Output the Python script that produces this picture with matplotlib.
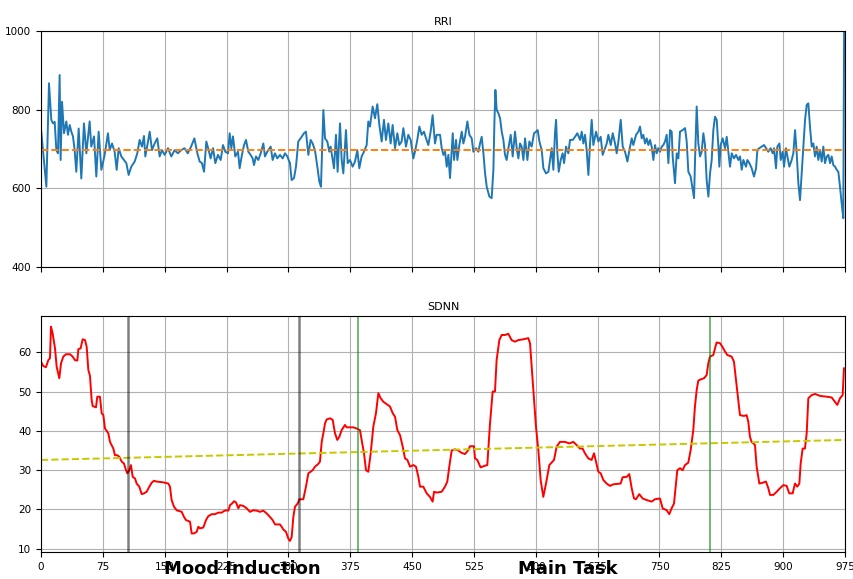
import numpy as np
import matplotlib
matplotlib.use("Agg")
import matplotlib.pyplot as plt

# ---------------- data ----------------
rri_x = [0, 6.5, 9.7, 12.5, 14.6, 16.6, 18.6, 20.6, 22.6, 23.8, 25.5, 27.9, 30.7, 32.7, 34.8, 36.8, 38.8,
         40.8, 42.8, 45.7, 48.9, 52.1, 55, 59, 61, 64.3, 67.1, 69.9, 73.2, 77.2, 81.2, 83.3, 86.1, 89.3,
         91.8, 94.2, 97.4, 100.6, 103.5, 106.3, 109.5, 113.6, 116.8, 119.6, 122.5, 124.9, 126.5, 129.8,
         131.8, 134.6, 137.8, 141, 143.9, 146.7, 150, 154, 158, 162, 166, 170, 174, 178, 182, 186, 189.6,
         192.4, 195.2, 197.7, 200.5, 203.3, 205.7, 208.6, 211.4, 214.6, 217.9, 220.7, 223.5, 226.8, 228.8,
         230.8, 232.8, 235.6, 238.9, 240.9,
         243.3, 246.2, 248.6, 251.4, 254.2, 256.7, 258.3, 260.7, 263.5, 266.4, 269.6, 271.6, 274.4, 278.5,
         280.9, 283.7, 286.6, 289.8, 293, 295.9, 298.7, 301.9, 303.9, 306.8, 309.2, 312, 316.1, 318.9,
         321.3, 324.2, 327, 329.4, 332.2, 335.1, 337.5, 339.5, 342.4, 344.4, 347.2, 349.6, 351.2, 353.7,
         355.3, 357.7, 359.7, 362.6, 364.6, 366.6, 369.8, 371.9, 374.7, 377.9, 380.8, 383.6, 386, 388.8,
         391.7, 394.9, 396.9, 398.9, 402.2, 405, 407.8, 410.3, 413.1, 415.9, 418.3, 421.2, 424, 426.4,
         429.3, 432.1, 434.5, 437.3, 439.4, 442.6, 445.4, 448.3, 451.5, 453.5, 456.3, 458.8, 461.6, 464.4,
         466.9, 469.7, 472.5, 474.9, 477.8, 479.8,
         483.9, 485.9, 488, 490, 492, 494, 496, 498, 499.3, 500.9, 503.3, 504.9, 507.3, 510.2, 512.2, 514.2,
         517, 519.5, 522.3, 524.3, 527.6, 530.4, 532.4, 534.4, 536.5, 538.5, 540.5, 543.7, 546.5, 548.6,
         549.8, 551, 552.6, 554.6, 556.7, 558.7, 560.7, 562.7, 564.7, 566.8, 569.6, 572, 574.8, 576.9,
         578.9, 580.9, 582.9, 585, 587, 589.8, 592.2, 595, 597.9, 600.3, 602.3, 604.4, 607.2, 609.2, 612.4,
         615.3, 617.3, 619.3, 621.3, 623.3, 624.6, 626.2, 627.8, 630.2, 632.6, 634.3, 636.7, 639.5, 641.5,
         644.8, 647.6, 650.4, 653.7, 655.7, 657.7, 659.7, 661.7, 663.8, 665.8, 667.8, 669.8, 673.1, 675.9,
         678.7, 681.1, 684, 686, 688, 690.9, 693.3, 696.1, 698.1, 700.2, 703, 705.4, 708.2, 711.1, 713.5,
         716.3, 718.3, 721.6, 724.4,
         726.4, 728.4, 730.4, 732.5, 734.5, 736.5, 738.5, 740.5, 742.6, 744.6, 746.6, 748.6, 750.7, 752.7,
         754.7, 756.7, 758.7, 760.8, 762.8, 764.8, 766, 768.8, 770.9, 772.9, 774.9, 778.1, 781, 783, 785,
         787.8, 790.3, 791.9, 793.1, 795.1, 797.1, 799.2, 801.2, 803.2, 805.2, 807.2, 809.3, 811.3, 813.3,
         815.3, 817.3, 819.4, 821.4, 822.6, 824.2, 826.6, 829.5, 831.5, 833.5, 835.5, 837.6, 840.4, 842.8,
         845.6, 847.7, 849.7, 851.7, 854.9, 856.6, 859, 861.8, 864.6, 867.1, 868.7, 871.1, 874, 876.8,
         879.2, 882, 884.8, 887.3, 888.9, 891.3, 892.9, 895.4, 897, 899.4, 901, 903.4, 905.1, 907.5, 910.3,
         912.3, 914.4, 916.4, 918.4, 920.4, 922.4, 924.5, 926.5, 928.5, 930.5, 932.5, 934.6, 936.6, 938.6,
         940.6, 942.6, 944.7, 946.7, 948.7, 950.7, 952.8, 954.8, 956.8, 958.8, 960.8, 962.9, 964.9, 966.9,
         968.9, 970.9, 972.9, 974.5]
rri = [752, 604, 867, 774, 765, 769, 697, 689, 888, 672, 820, 740, 770, 736, 761, 744, 732,
       697, 642, 752, 625, 765, 689, 770, 706, 732, 630, 744, 647, 685, 740, 697, 714, 693,
       647, 702, 681, 672, 664, 634, 655, 668, 689, 723, 706, 733, 681, 719,
       744, 697, 714, 727, 681, 697, 685, 702, 681, 697, 689, 697, 702, 689, 706, 727, 689,
       668, 664, 642, 719, 697, 676, 702, 664, 685, 672, 710, 693, 689, 740,
       702, 732, 681, 693, 651,
       681, 710, 723, 693, 685, 676, 659, 681, 672, 689, 714, 681, 693, 706,
       672, 689, 676, 685, 676, 689, 681, 664, 621, 626, 655, 719, 731, 740,
       744, 685, 723, 714, 697, 655, 617, 604, 799, 727, 719, 693, 706, 672,
       651, 736, 642, 765, 672, 638, 748, 664, 672, 655, 668, 697, 651, 681,
       693, 710, 770, 757, 808, 778, 814, 761, 719, 774, 723, 765, 714, 761,
       702, 740, 710, 719, 753, 706, 736, 723, 676, 693, 723, 757, 736, 744,
       727, 710, 744, 786, 714, 736,
       736, 702, 685, 693, 655, 685, 626, 697, 740, 672, 723, 672, 710, 744, 714, 731,
       770, 736, 727, 693, 702, 693, 714, 731, 689, 638, 604, 579, 575, 647,
       765, 850, 799, 791, 778, 744, 723, 685, 672, 702, 736, 681, 744, 702,
       676, 714, 706, 672, 727, 672, 719, 706, 740, 744, 748, 719, 697, 651, 638,
       642, 672, 702, 647, 740, 774, 689, 642, 672, 689, 664, 706, 689, 723,
       723, 731, 740, 723, 744, 714, 736, 697, 634, 714, 774, 710, 744, 719,
       731, 685, 702, 714, 736, 710, 740, 714, 689, 719, 774, 706, 693, 668, 697,
       727, 710, 736, 744,
       757, 727, 736, 714, 727, 710, 723, 706, 672, 710, 689, 702, 693, 706,
       710, 719, 736, 664, 748, 744, 681, 613, 689, 676, 744, 748, 753, 719, 642,
       630, 596, 575, 672, 808, 714, 681, 693, 740, 710, 621, 579, 638, 672,
       748, 782, 774, 706, 655, 710, 727, 702, 731, 693, 655, 689, 676, 685,
       672, 681, 647, 672, 655, 672, 664, 651, 630, 651, 698, 702, 706, 710,
       702, 693, 702, 689, 702, 651, 706, 714, 672, 693, 655, 702, 681, 655, 672,
       689, 748, 689, 613, 570, 638, 710, 774, 812, 816, 757, 706, 714, 681,
       706, 672, 698, 668, 706, 664, 681, 685, 664, 681, 659, 655, 647, 642,
       604, 562, 524, 1300]
rri_mean = 697

sdnn_x = [0, 2.8, 6, 8.9, 10.9, 12.1, 14.1, 17, 19, 22.2, 24.3, 27.1, 30.3, 35.2, 38.4, 41.2, 44.1, 45.3,
          48.1, 50.5, 53.4, 55.4, 57.4, 59.4, 61.4, 62.7, 66.7, 68.3, 71.5, 73.6, 75.6, 77.6, 81.6, 83.7,
          87.7, 89.7, 92.6, 95, 97.8, 100.6, 103.1, 104.7, 107.1, 109.1, 111.2, 114, 116, 119.2, 122.1,
          124.9, 128.1, 131.4, 134.2, 137, 140.3, 148.3, 154.4, 156.4, 158.4, 161.3, 164.5, 170.6, 173.4,
          175.8, 180.7, 182.7, 185.5, 188.8, 190.8, 192.8, 196.8, 200.1, 202.9, 207, 211, 215, 219.1,
          221.9, 224.3, 227.2, 229.2, 231.6, 234.1, 236.5, 239.3, 241.3, 245.4, 249.4, 253.4, 257.5, 261.5,
          265.6, 269.6, 273.6, 277.7, 280.9, 283.8, 289.8, 291.8, 293.9, 297.1, 299.9, 301.9, 304, 306,
          308, 311.2, 313.3, 318.1, 321.3, 324.2, 327, 329.4, 332.3, 336.3, 338.3, 340.4, 342.4, 344.4,
          346.4, 350.5, 353.7, 356.5, 359.3, 361.8, 364.6, 368.6, 370.7, 374.7, 378.7, 382.8, 386.8, 388.8,
          391.7, 394.1, 396.9, 399.8, 403, 406.2, 409.1, 411.9, 415.2, 419.2, 423.2, 426.5, 429.3, 432.1,
          435.4, 438.6, 441.4, 444.3, 447.5, 451.5, 454.7, 457.6, 459.6, 463.6, 467.7, 471.7,
          474.9, 476.6, 479.8, 485.8, 489.9, 492.7, 495.1, 498, 502, 506, 510.1, 514.1, 518.2, 520.2, 525,
          526.3, 529.1, 533.1, 536.4, 541.2, 544.5, 547.7, 550.5, 552.5, 555.8, 558.6, 562.6, 566.7, 570.7,
          574.8, 578.8, 584.9, 590.9, 593, 595, 597.8, 600.2, 603.1, 605.9, 609.1, 612.4, 616.4, 620.4,
          622.1, 625.3, 629.3, 635.4, 640.6, 645.5, 649.5, 653.6, 656.8, 659.6, 663.7, 667.7, 670.6, 673,
          675.8, 678.7, 681.9, 685.9, 690, 694, 698, 702.9, 705.3, 710.2, 713.4, 716.3, 719.1, 721.5, 725.5,
          729.6, 734.4, 740.5, 744.5, 750.6, 753.8, 758.7, 761.9, 764.7, 767.6, 770, 771.6, 774.9, 778.1,
          780.9, 784.9, 787.8, 791, 793, 795.1, 797.1, 799.9, 804, 807.2, 809.2, 811.2, 815.3, 817.3, 819.3,
          823.4, 826.6, 829.4, 832.3, 837.5, 840.3, 842.8, 845.6, 847.6, 852.5, 855.7, 857.7, 859.7, 861.7,
          865.8, 867.8, 871.1, 875.1, 879.1, 882, 884, 888, 892.1, 896.1, 900.2, 904.2, 907.4, 911.5, 914.3,
          917.1, 919.6, 921.2, 923.6, 926.4, 928.5, 930.5, 934.5, 938.6, 944.6, 952.7, 958.8, 962.8, 965.6,
          968.9, 972.1, 973.7]
sdnn = [57.6, 56.5, 56.2, 58, 58.5, 66.5, 64.8, 61, 56.3, 53.4, 57.2, 58.9, 59.5, 59.5, 58.9, 58, 57.9, 60.8,
        61, 63.3, 63.1, 61.4, 55.5, 54, 47.9, 46.3, 46, 48.7, 48.7, 44.5, 44, 40.6, 39.4, 37.2,
        35.5, 33.8, 33.8, 33.4, 32.2, 31.7, 30, 29.2, 30, 31.3, 28.3, 27.9, 26.6, 25.8, 23.9,
        24.1, 24.5, 25.8, 26.8, 27.3, 27.1, 26.9, 26.6, 25.8, 22.4, 20.7, 19.8, 19.4, 18.1,
        17.3, 16.9, 13.9, 13.9, 14.3, 15.6, 15.2, 15.4, 17.3, 18.3, 18.8, 18.8, 19.2, 19.2,
        19.6, 19.8, 19.7, 21.1, 21.5, 22.1, 21.8, 20.3, 21.1, 20.9, 20.3, 19.4, 19.8, 19.7,
        19.4, 19.7, 19, 18.1, 17.3, 16.2, 16.2, 15.6, 14.9, 14.3, 12.6, 12, 13, 18.1,
        20.7, 21.5, 22.6, 22.6, 25.8, 29.2, 29.6, 30, 30.9, 31.6, 32.2, 37.2, 39.4, 41.9,
        42.9, 43.2, 42.8, 39.4, 37.7, 38.5, 40.2, 41.5, 40.9, 40.9, 40.9, 40.6, 40.2, 37.7,
        34.3, 30, 29.6, 34.3, 41.1, 44.5, 49.6, 48.3, 47.4, 46.8, 46.2, 44.5, 43.6, 40.2,
        38.9, 36, 33, 32.6, 30.9, 31.3, 30.9, 28.3, 25.8, 25.8, 24.1, 23.2,
        22, 24.5, 24.3, 24.5, 25.8, 27.1, 30.9, 35, 35.3, 35, 34.4, 34.1, 35.1, 36.1, 36.1,
        33, 32.6, 30.7, 31, 31.3, 41.9, 50, 50, 58, 63.1, 64.4, 64.4, 64.7, 63.1,
        62.7, 63.1, 63.3, 63.6, 62.3, 56.3, 47.9, 41.1, 35.1, 27.5, 23.2, 26.6, 31.3, 32.2,
        32.6, 36, 37.2, 37.2, 36.8, 37.2, 36.4, 35.5, 35.5, 34.3, 33, 32.6, 34.3, 32.2,
        29.6, 29.2, 27.5, 26.6, 26, 26.4, 26.5, 26.6, 28.2, 28.3, 29, 25.4, 22.8, 22.6, 23.9,
        22.8, 22.4, 22, 22.6, 22.8, 20.3, 19.8, 18.8, 20.3, 21.5, 26.6, 30, 30.5, 30,
        31.3, 31.9, 35.1, 40.2, 46.2, 50.4, 52.8, 53.1, 53.4, 54.2, 57.2, 58.9, 59.3, 61, 62.5,
        62.3, 61.3, 60.2, 59.3, 58.9, 57.6, 53, 47.9, 44, 43.8, 44, 42.3, 38.5, 37.2,
        36.4, 30.9, 26.6, 26.8, 27.1, 25.4, 23.7, 23.7, 24.5, 25.4, 26.2, 26, 24.1, 24.1, 26.6,
        25.8, 26.6, 31.7, 35.5, 35.5, 39.4, 48.3, 49.1, 49.4, 48.9, 48.7, 48.5, 47.4, 46.6,
        48.3, 49.1, 55.9]
trend_x = [0, 975]
trend_y = [32.6, 37.7]

phase_lines = [105, 313]
task_lines = [385, 811]
labels = ["Mood Induction", "Main Task"]
label_x = [244, 639]

xticks = list(range(0, 976, 75))

# ---------------- figure ----------------
fig = plt.figure(figsize=(8.54, 5.79), dpi=100)
ax1 = fig.add_axes([0.048, 0.5389, 0.9415, 0.4076])
ax2 = fig.add_axes([0.048, 0.0461, 0.9415, 0.4086], sharex=ax1)

ax1.plot(rri_x, rri, color='#1f77b4', lw=1.4)
ax1.axhline(rri_mean, color='#ff7f0e', ls='--', lw=1.4)
ax1.set_ylim(400, 1000)
ax1.set_yticks([400, 600, 800, 1000])
ax1.set_title("RRI", fontsize=8, pad=4)
ax1.grid(True, color='#b0b0b0', lw=0.8)
ax1.tick_params(labelbottom=False, labelsize=7.5)

ax2.plot(sdnn_x, sdnn, color='red', lw=1.4)
ax2.plot(trend_x, trend_y, color='#c8c800', ls='--', lw=1.4)
for v in phase_lines:
    ax2.axvline(v, color='black', alpha=0.5, lw=1.8)
for v in task_lines:
    ax2.axvline(v, color='green', alpha=0.55, lw=1.4)
ax2.set_ylim(9.1, 69.3)
ax2.set_yticks([10, 20, 30, 40, 50, 60])
ax2.set_title("SDNN", fontsize=8, pad=4)
ax2.grid(True, color='#b0b0b0', lw=0.8)
ax2.tick_params(labelsize=7.5)
ax2.set_xlim(0, 975)
ax2.set_xticks(xticks)

for lab, lx in zip(labels, label_x):
    ax2.text(lx, -0.07, lab, transform=ax2.get_xaxis_transform(), ha='center', va='center',
             fontsize=13, fontweight='bold')

fig.savefig("out.png", dpi=100)
